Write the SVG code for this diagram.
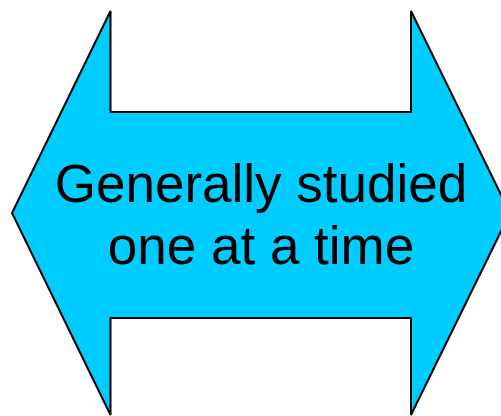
<svg xmlns="http://www.w3.org/2000/svg" width="501" height="416" viewBox="0 0 501 416">
<style>
.shape{fill:#00CCFF;stroke:#000;stroke-width:2;stroke-linejoin:miter}
.lbl{font-family:"Liberation Sans",Arial,sans-serif;font-size:53px;fill:#000;text-anchor:middle}
</style>
<rect width="501" height="416" fill="#fff"/>
<g id="double-arrow">
<path class="shape" d="M12,213 L110.5,11 L110.5,112 L411,112 L411,11 L510,213 L411,415 L411,318 L110.5,318 L110.5,415 Z"/>
<text class="lbl" x="261" y="202">Generally studied</text>
<text class="lbl" x="261" y="264">one at a time</text>
</g>
</svg>
